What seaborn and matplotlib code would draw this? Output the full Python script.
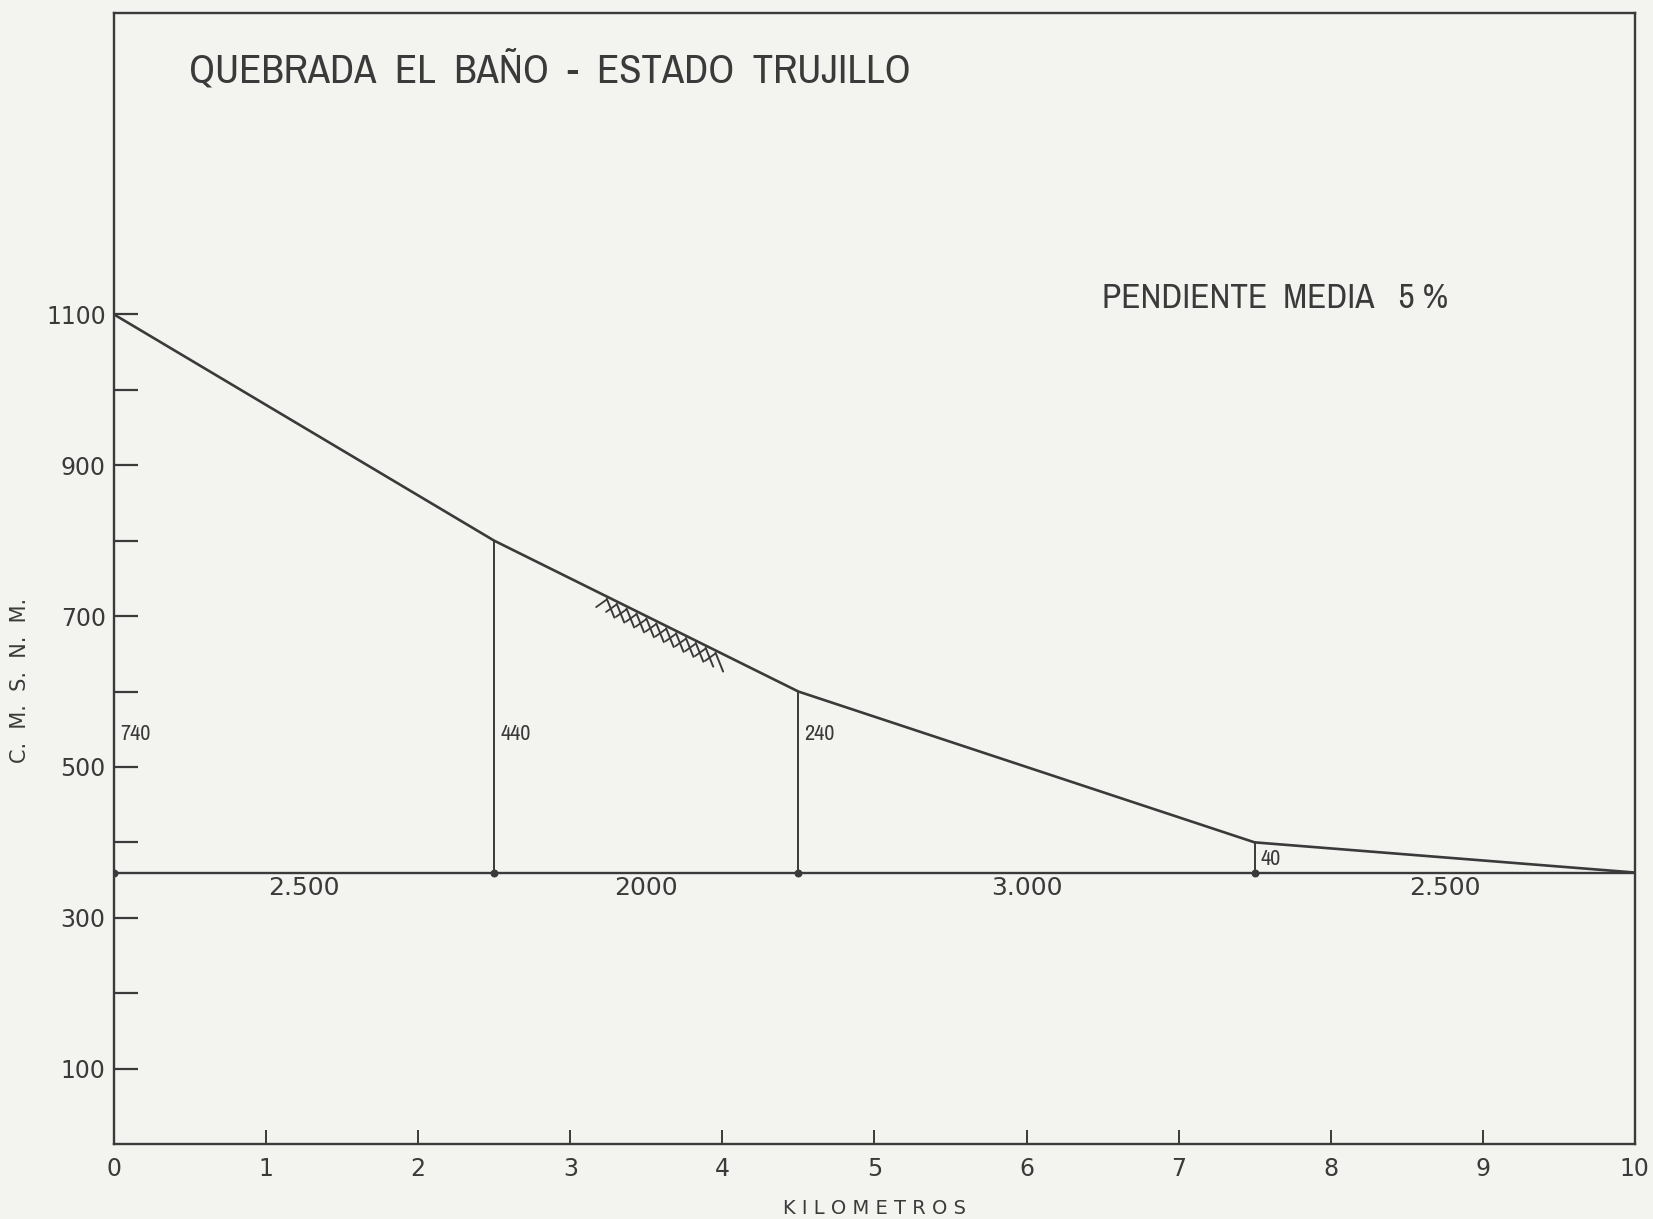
import numpy as np
import pandas as pd
import matplotlib
matplotlib.use("Agg")
import matplotlib.pyplot as plt
from matplotlib import font_manager
import seaborn as sns

# Longitudinal profile of the stream (km, metres above sea level)
km = [0.0, 2.5, 4.5, 7.5, 10.0]
cota = [1100, 800, 600, 400, 360]
base_cota = 360

# Height of each break point above the outlet, and length of each reach (m)
desnivel = [740, 440, 240, 40]
tramo_labels = ["2.500", "2000", "3.000", "2.500"]

x_ticks = list(range(0, 11))
y_major = [100, 300, 500, 700, 900, 1100]
y_minor = [200, 400, 600, 800, 1000]

paper = "#f3f3f0"
ink = "#3a3a3a"

sns.set_theme(style="white")
plt.rcParams["font.family"] = ["DejaVu Sans"]


def narrow_family():
    """Pick an installed condensed sans face for the lettering, if any."""
    for f in font_manager.fontManager.ttflist:
        n = f.name.lower()
        if "narrow" in n or "condensed" in n:
            return f.name, "normal"
    for f in font_manager.fontManager.ttflist:
        if str(f.stretch) in ("condensed", "semi-condensed", "extra-condensed") or \
                (isinstance(f.stretch, int) and f.stretch < 500):
            return f.name, f.stretch
    return "DejaVu Sans", "normal"


narrow, narrow_stretch = narrow_family()

fig = plt.figure(figsize=(16.53, 12.19), dpi=100, facecolor=paper)
ax = fig.add_axes([0.0690, 0.0615, 0.9200, 0.9280])
ax.set_facecolor(paper)

df = pd.DataFrame({"km": km, "cota": cota})
sns.lineplot(data=df, x="km", y="cota", ax=ax, color=ink, linewidth=1.9,
             estimator=None, sort=False)

# Outlet datum line
ax.plot([km[0], km[-1]], [base_cota, base_cota], color=ink, linewidth=1.7)
ax.scatter(km[:-1], [base_cota] * (len(km) - 1), s=22, color=ink, zorder=5)

# Verticals at the slope breaks and their drop labels
for xk, yk, d in zip(km[:-1], cota[:-1], desnivel):
    if xk > 0:
        ax.plot([xk, xk], [base_cota, yk], color=ink, linewidth=1.4)
    ylab = 544 if d != 40 else 378
    ax.text(xk + 0.04, ylab, str(d), fontsize=16, color=ink,
            family=narrow, fontstretch=narrow_stretch, ha="left", va="center")

# Reach lengths under the datum line
for i, lab in enumerate(tramo_labels):
    xm = (km[i] + km[i + 1]) / 2
    ax.text(xm, 340, lab, fontsize=18, color=ink, ha="center", va="center")

# Hatching that marks the eroded stretch of the bed
for j, xs in enumerate(np.arange(3.24, 3.98, 0.065)):
    ys = np.interp(xs, km, cota)
    ax.plot([xs, xs + 0.05], [ys - 3, ys - 28], color=ink, linewidth=1.4)
    ax.plot([xs - 0.07, xs + 0.0], [ys - 14, ys - 4], color=ink, linewidth=1.3)

ax.set_xlim(0, 10)
ax.set_ylim(0, 1500)
ax.set_xticks(x_ticks)
ax.set_xticklabels([str(t) for t in x_ticks])
ax.set_yticks(y_major)
ax.set_yticks(y_minor, minor=True)
ax.set_yticklabels([str(t) for t in y_major])

ax.tick_params(axis="y", which="both", direction="in", length=17, width=1.6,
               color=ink, labelsize=17, labelcolor=ink, pad=6, left=True)
ax.tick_params(axis="x", which="major", direction="in", length=10, width=1.4,
               color=ink, labelsize=17, labelcolor=ink, pad=9, bottom=True)

for side in ["left", "right", "top", "bottom"]:
    ax.spines[side].set_visible(True)
    ax.spines[side].set_color(ink)
    ax.spines[side].set_linewidth(1.7)

ax.set_xlabel("K I L O M E T R O S", fontsize=14, color=ink)
ax.xaxis.set_label_coords(0.5, -0.049)
ax.set_ylabel("C.  M.  S.  N.  M.", fontsize=15, color=ink)
ax.yaxis.set_label_coords(-0.055, 0.41)

title = ax.text(0.049, 0.949, "QUEBRADA  EL  BAÑO  -  ESTADO  TRUJILLO",
                transform=ax.transAxes, fontsize=30, color=ink,
                family=narrow, fontstretch=narrow_stretch, ha="left", va="center")
note = ax.text(0.6495, 0.748, "PENDIENTE  MEDIA   5 %",
               transform=ax.transAxes, fontsize=22, color=ink,
               family=narrow, fontstretch=narrow_stretch, ha="left", va="center")

# Fit the lettering to its drawn width
fig.canvas.draw()
renderer = fig.canvas.get_renderer()
for txt, target_px in [(title, 721), (note, 346)]:
    w = txt.get_window_extent(renderer).width
    txt.set_fontsize(txt.get_fontsize() * target_px / w)

fig.savefig("out.png", dpi=100, facecolor=paper)
